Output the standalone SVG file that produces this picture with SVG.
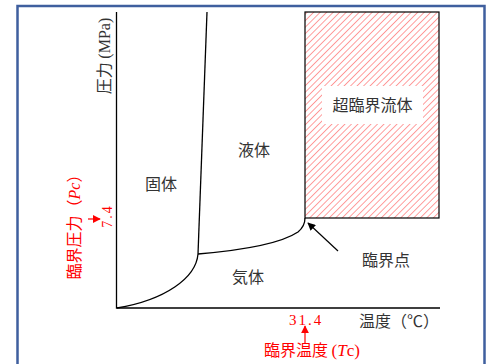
<svg xmlns="http://www.w3.org/2000/svg" width="489" height="364" viewBox="0 0 489 364">
<style>
.ln{fill:none;stroke:#000;stroke-width:1.3}
.jp{font-family:"Noto Sans CJK JP","Noto Sans",sans-serif;fill:#333;font-size:16px}
.rd{fill:#f00}
.ser{font-family:"Liberation Serif","Noto Serif",serif}
</style>
<defs>
<pattern id="hatch" width="4.6" height="4.6" patternUnits="userSpaceOnUse" patternTransform="rotate(45)">
<line x1="0" y1="0" x2="0" y2="4.6" stroke="#ff5050" stroke-width="1.1"/>
</pattern>
<marker id="ah" viewBox="0 0 10 10" refX="9" refY="5" markerWidth="8" markerHeight="8" markerUnits="userSpaceOnUse" orient="auto">
<path d="M0,0 L10,5 L0,10 z" fill="#000"/>
</marker>
<marker id="ahr" viewBox="0 0 10 10" refX="9" refY="5" markerWidth="8" markerHeight="8" markerUnits="userSpaceOnUse" orient="auto">
<path d="M0,0 L10,5 L0,10 z" fill="#f00"/>
</marker>
</defs>
<rect x="0" y="0" width="489" height="364" fill="#fff"/>
<path d="M17.5,370 V6 H484.5 V370" fill="none" stroke="#3f5f9e" stroke-width="2.5"/>
<g id="supercritical">
<rect x="305" y="12" width="134" height="206" fill="url(#hatch)" stroke="#000" stroke-width="1.2"/>
<rect x="322" y="86" width="101" height="38" fill="#fff"/>
<text class="jp" x="372.5" y="111" text-anchor="middle" font-size="17">超臨界流体</text>
</g>
<g id="connectors">
<path class="ln" d="M116.5,12 V308 H440"/>
<path class="ln" d="M207,12 L198,254"/>
<path class="ln" d="M198,254 C196,278 165,300 117,308"/>
<path class="ln" d="M198,254 C245,250 280,244 298,232 C304,227 305,222 305,218"/>
<line x1="338" y1="251" x2="308" y2="223" stroke="#000" stroke-width="1.2" marker-end="url(#ah)"/>
<line x1="305" y1="344" x2="305" y2="326" stroke="#f00" stroke-width="1.2" marker-end="url(#ahr)"/>
<line x1="88" y1="219" x2="100" y2="219" stroke="#f00" stroke-width="1.2" marker-end="url(#ahr)"/>
</g>
<g id="solid"><text class="jp" x="161" y="190" text-anchor="middle">固体</text></g>
<g id="liquid"><text class="jp" x="254" y="156" text-anchor="middle">液体</text></g>
<g id="gas"><text class="jp" x="248" y="283" text-anchor="middle">気体</text></g>
<g id="critical-point"><text class="jp" x="386" y="266" text-anchor="middle" font-size="17">臨界点</text></g>
<g id="x-axis-label"><text class="jp" x="359" y="327" font-size="15">温度（℃）</text></g>
<g id="y-axis-label"><text class="jp" transform="translate(110,56) rotate(-90)" text-anchor="middle" font-size="14">圧力 <tspan class="ser" font-size="16">(MPa)</tspan></text></g>
<g id="tc-value"><text class="rd ser" x="306" y="325" text-anchor="middle" font-size="15" letter-spacing="2">31.4</text></g>
<g id="tc-label"><text class="jp rd" x="312" y="356" text-anchor="middle" style="fill:#f00">臨界温度 <tspan class="ser" font-size="17">(<tspan font-style="italic">T</tspan>c)</tspan></text></g>
<g id="pc-value"><text class="rd ser" transform="translate(112,216) rotate(-90)" text-anchor="middle" font-size="14" letter-spacing="2">7.4</text></g>
<g id="pc-label"><text class="jp" transform="translate(80,223) rotate(-90)" text-anchor="middle" style="fill:#f00">臨界圧力（<tspan class="ser" font-style="italic">Pc</tspan>）</text></g>
</svg>
